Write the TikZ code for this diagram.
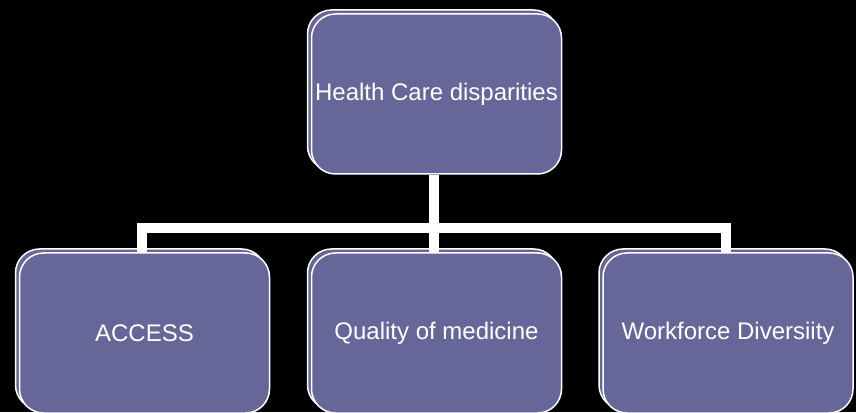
\documentclass[tikz,border=0pt]{standalone}
\usepackage{fontspec}
\setmainfont{Liberation Sans}
\definecolor{boxfill}{RGB}{102,102,153}
\pgfdeclarelayer{back}
\pgfdeclarelayer{mid}
\pgfsetlayers{back,mid,main}
\begin{document}
\begin{tikzpicture}[x=1pt,y=1pt,
  card/.style={draw=white, line width=1.5pt, fill=boxfill, rounded corners=24pt,
    minimum width=250pt, minimum height=160pt, inner sep=0pt, text=white,
    font=\fontsize{24}{28}\selectfont},
  link/.style={draw=white, line width=10pt}]
\useasboundingbox (0,0) rectangle (856,412);
\clip (0,0) rectangle (856,412);

% front cards
\node[card] (top) at (436.5,318) {Health Care disparities};
\node[card] (a) at (144.5,79) {ACCESS};
\node[card] (b) at (436.5,79) {Quality of medicine};
\node[card] (c) at (728,79) {Workforce Diversiity};

\begin{pgfonlayer}{back}
  \fill[black] (0,0) rectangle (856,412);
  % stacked copies behind each card
  \node[card] (topb) at ([xshift=-4pt,yshift=4pt]top.center) {};
  \node[card] (ab) at ([xshift=-4pt,yshift=4pt]a.center) {};
  \node[card] (bb) at ([xshift=-4pt,yshift=4pt]b.center) {};
  \node[card] (cb) at ([xshift=-4pt,yshift=4pt]c.center) {};
\end{pgfonlayer}

\begin{pgfonlayer}{mid}
  \draw[link] ([xshift=-2.5pt]top.south) -- ++(0,-53) coordinate (j);
  \draw[link] ([xshift=-2.5pt]a.north) |- ([xshift=-2.5pt]c.north |- j)
    -- ([xshift=-2.5pt]c.north);
  \draw[link] ([xshift=-2.5pt]b.north) -- ([xshift=-2.5pt]b.north |- j);
\end{pgfonlayer}
\end{tikzpicture}
\end{document}
